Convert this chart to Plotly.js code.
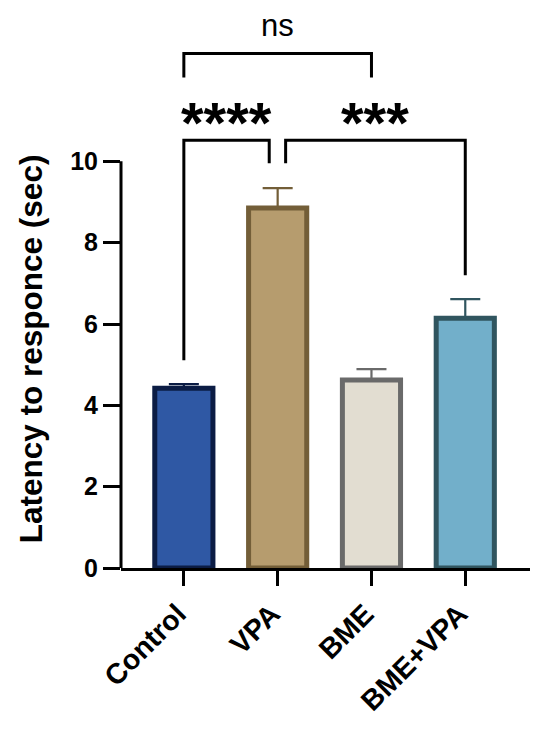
<!DOCTYPE html>
<html>
<head>
<meta charset="utf-8">
<script src="https://cdn.plot.ly/plotly-3.0.1.min.js"></script>
<style>html,body{margin:0;padding:0;background:#fff;}#chart{width:545px;height:733px;}</style>
</head>
<body>
<div id="chart"></div>
<script>
// Data
const categories = ["Control", "VPA", "BME", "BME+VPA"];
const means = [4.42, 8.85, 4.62, 6.14];
const sem = [0.10, 0.49, 0.27, 0.47];
const fillColors = ["#2F58A4", "#B69C6E", "#E2DDD1", "#72AFCA"];
const lineColors = ["#0B1C44", "#735E38", "#6A6A6A", "#30555F"];
const yTicks = [0, 2, 4, 6, 8, 10];
const yTitle = "Latency to responce (sec)";
// Significance comparisons: [from index, to index, label]
const comparisons = [[0, 1, "****"], [1, 3, "***"], [0, 2, "ns"]];

const FONT = "Liberation Sans, Arial, sans-serif";

const trace = {
  type: "bar",
  x: categories,
  y: means,
  width: 0.62,
  marker: { color: fillColors, line: { color: lineColors, width: 5 } },
  hoverinfo: "none"
};

const errTraces = categories.map((c, i) => ({
  type: "scatter", mode: "none", x: [c], y: [means[i]],
  error_y: { type: "data", array: [sem[i]], arrayminus: [0], symmetric: false, color: lineColors[i], thickness: 2.2, width: 15 },
  hoverinfo: "none", showlegend: false
}));

const lw = 3;
const shapes = [];
const annotations = [];
// y-axis line from 0 to 10
shapes.push({ type: "line", xref: "paper", yref: "y", x0: 0, x1: 0, y0: 0, y1: yTicks[yTicks.length - 1], line: { color: "#000", width: lw } });

function bracket(a, b, yTop, yA, yB, label, fontSize, bold, dxA, dxB, labelY) {
  const xa = a + (dxA || 0), xb = b + (dxB || 0);
  shapes.push({ type: "path", xref: "x", yref: "y",
    path: `M ${xa} ${yA} L ${xa} ${yTop} L ${xb} ${yTop} L ${xb} ${yB}`,
    line: { color: "#000", width: lw } });
  annotations.push({ xref: "x", yref: "y", x: (xa + xb) / 2, y: labelY, text: label, showarrow: false,
    font: { family: FONT, size: fontSize, color: "#000", weight: bold ? "bold" : "normal" },
    yanchor: "middle" });
}
const top1 = 10.52;
bracket(comparisons[0][0], comparisons[0][1], top1, means[0] + sem[0] + 0.59, 9.95, comparisons[0][2], 58, true, 0, -0.09, 10.95);
bracket(comparisons[1][0], comparisons[1][1], top1, 9.95, means[3] + sem[3] + 0.59, comparisons[1][2], 58, true, 0.085, 0, 10.95);
bracket(comparisons[2][0], comparisons[2][1], 12.65, 12.06, 12.06, comparisons[2][2], 31, false, 0, 0, 13.35);

// y-axis title centred on the 0-10 axis line
annotations.push({ xref: "paper", yref: "y", x: -0.218, y: 5.4, text: yTitle, textangle: -90, showarrow: false,
  xanchor: "center", yanchor: "middle", font: { family: FONT, size: 31.5, color: "#000", weight: "bold" } });

const layout = {
  width: 545, height: 733,
  margin: { l: 121, r: 15, t: 19, b: 165 },
  paper_bgcolor: "#fff", plot_bgcolor: "#fff",
  showlegend: false,
  font: { family: FONT, color: "#000" },
  xaxis: {
    type: "category", range: [-0.67, 3.69],
    showline: true, linecolor: "#000", linewidth: lw,
    ticks: "outside", ticklen: 15, tickwidth: 3, tickcolor: "#000",
    tickangle: -45, tickfont: { size: 28.5, weight: "bold" },
    ticklabelshift: -6,
    showgrid: false, zeroline: false, fixedrange: true
  },
  yaxis: {
    range: [0, 13.5], tickvals: yTicks, ticktext: yTicks.map(String),
    showline: false, ticks: "outside", ticklen: 17, tickwidth: 3, tickcolor: "#000",
    tickfont: { size: 25, weight: "bold" },
    showgrid: false, zeroline: false, fixedrange: true
  },
  shapes: shapes,
  annotations: annotations
};

Plotly.newPlot("chart", [trace, ...errTraces], layout, { displayModeBar: false, staticPlot: true });
</script>
</body>
</html>
